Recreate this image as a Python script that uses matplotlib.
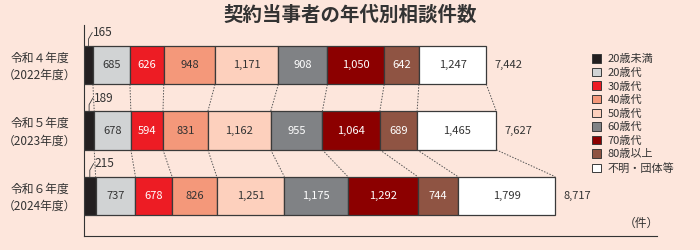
import matplotlib
matplotlib.use("Agg")
import matplotlib.pyplot as plt
from matplotlib.patches import Patch
from matplotlib.transforms import blended_transform_factory
import numpy as np

plt.rcParams["font.family"] = ["Noto Sans CJK JP", "DejaVu Sans"]

TITLE = "契約当事者の年代別相談件数"
YEARS = ["令和４年度\n（2022年度）", "令和５年度\n（2023年度）", "令和６年度\n（2024年度）"]
CATEGORIES = ["20歳未満", "20歳代", "30歳代", "40歳代", "50歳代",
              "60歳代", "70歳代", "80歳以上", "不明・団体等"]
R4 = [165, 685, 626, 948, 1171, 908, 1050, 642, 1247]
R5 = [189, 678, 594, 831, 1162, 955, 1064, 689, 1465]
R6 = [215, 737, 678, 826, 1251, 1175, 1292, 744, 1799]
TOTALS = [7442, 7627, 8717]

COLORS = ["#231f20", "#d1d3d4", "#ed1c24", "#f4987a", "#fdd0bd",
          "#808285", "#8c0000", "#8f5443", "#ffffff"]
TEXT_COLORS = ["white", "#333333", "white", "#333333", "#333333",
               "white", "white", "white", "#333333"]
BG = "#fde6dc"
EDGE = "#3a3a3a"

data = np.array([R4, R5, R6], dtype=float)
starts = np.cumsum(data, axis=1) - data
ends = np.cumsum(data, axis=1)
height = 0.59

fig = plt.figure(figsize=(7, 2.5), dpi=100, facecolor=BG)
ax = fig.add_axes([0.12, 0.056, 0.8186, 0.844], facecolor=BG)

for i in range(3):
    for j in range(len(CATEGORIES)):
        ax.barh(i, data[i, j], left=starts[i, j], height=height,
                color=COLORS[j], edgecolor=EDGE, linewidth=0.9, zorder=3)
        if j == 0:
            cx = starts[i, j] + data[i, j] / 2
            ax.plot([cx, cx, cx + 70], [i - height / 2, i - height / 2 - 0.1,
                    i - height / 2 - 0.2], color=EDGE, lw=0.6, zorder=4)
            ax.text(cx + 90, i - height / 2 - 0.2, f"{int(data[i, j]):,}",
                    ha="left", va="center", fontsize=8.5, color="#333333")
        else:
            ax.text(starts[i, j] + data[i, j] / 2, i, f"{int(data[i, j]):,}",
                    ha="center", va="center", fontsize=8,
                    color=TEXT_COLORS[j], zorder=5)
    ax.text(ends[i, -1] + 150, i, f"{TOTALS[i]:,}", ha="left", va="center",
            fontsize=8, color="#333333")

# dotted connectors between rows
for i in range(2):
    for j in range(len(CATEGORIES)):
        ax.plot([ends[i, j], ends[i + 1, j]],
                [i + height / 2, i + 1 - height / 2],
                color="#555555", lw=0.7, ls=(0, (1.5, 1.5)), zorder=2)

ax.set_xlim(0, 10600)
ax.set_ylim(2.61, -0.61)
ax.set_xticks([])
ax.set_yticks([])

trans = blended_transform_factory(ax.transAxes, ax.transData)
for i, lab in enumerate(YEARS):
    ax.text(-0.077, i + 0.03, lab, transform=trans, ha="center", va="center",
            fontsize=8.5, color="#333333", linespacing=1.45)

for s in ["top", "right"]:
    ax.spines[s].set_visible(False)
ax.spines["left"].set_color("#333333")
ax.spines["bottom"].set_color("#333333")
ax.spines["left"].set_linewidth(0.8)
ax.spines["bottom"].set_linewidth(0.8)

ax.text(10640, 2.42, "（件）", ha="right", va="center", fontsize=8.5,
        color="#333333")

fig.text(0.5, 0.94, TITLE, ha="center", va="center", fontsize=14,
         fontweight="bold", color="#333333")

handles = [Patch(facecolor=c, edgecolor=EDGE, linewidth=0.7) for c in COLORS]
fig.legend(handles, CATEGORIES, loc="upper left",
           bbox_to_anchor=(0.838, 0.805), frameon=False, fontsize=8,
           handlelength=0.8, handleheight=0.8, handletextpad=0.6,
           labelspacing=0.31, borderpad=0, labelcolor="#333333")

fig.savefig("out.png", dpi=100, facecolor=BG)
